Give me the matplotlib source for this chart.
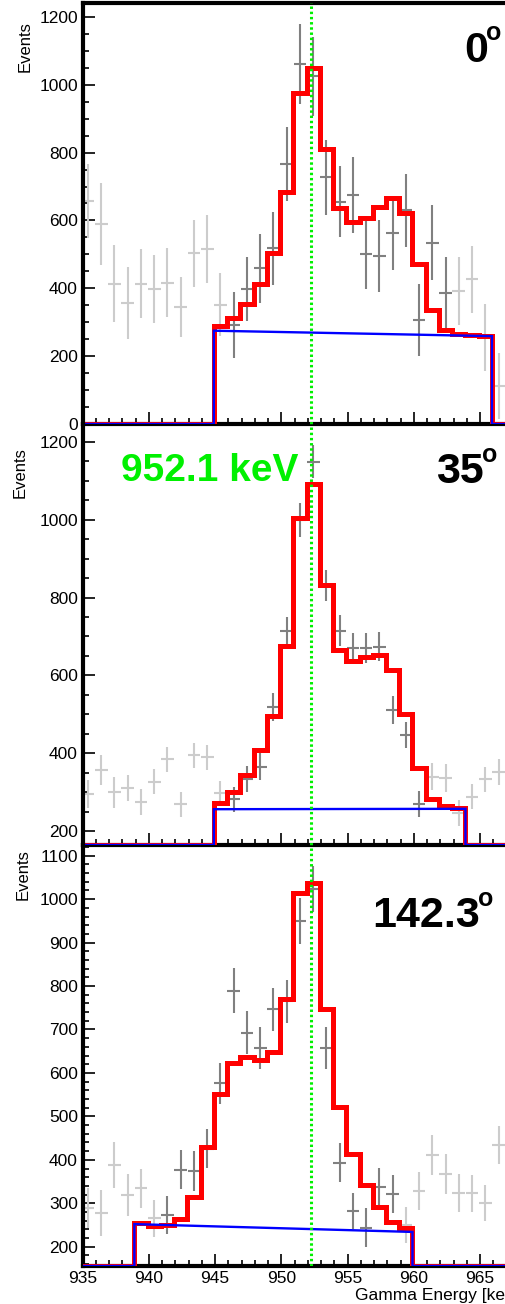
import numpy as np
import matplotlib
matplotlib.use("Agg")
import matplotlib.pyplot as plt
from matplotlib.ticker import MultipleLocator

plt.rcParams['font.family'] = ['Liberation Sans', 'DejaVu Sans']

# ---------------- data ----------------
bin_edges = [934.9, 935.9, 936.9, 937.9, 938.9, 939.9, 940.9, 941.9, 942.9, 943.9,
             944.9, 945.9, 946.9, 947.9, 948.9, 949.9, 950.9, 951.9, 952.9, 953.9,
             954.9, 955.9, 956.9, 957.9, 958.9, 959.9, 960.9, 961.9, 962.9, 963.9,
             964.9, 965.9, 966.9]
bin_centers = [935.4, 936.4, 937.4, 938.4, 939.4, 940.4, 941.4, 942.4, 943.4, 944.4,
               945.4, 946.4, 947.4, 948.4, 949.4, 950.4, 951.4, 952.4, 953.4, 954.4,
               955.4, 956.4, 957.4, 958.4, 959.4, 960.4, 961.4, 962.4, 963.4, 964.4,
               965.4, 966.4]

# panel 0 deg
counts_0 = [658, 589, 414, 358, 414, 398, 417, 344, 503, 516, 352, 292, 398, 459, 518, 766,
            1062, 1025, 727, 655, 675, 501, 495, 562, 630, 306, 535, 387, 392, 426, 255, 112]
errors_0 = [109, 120, 113, 106, 101, 99, 101, 89, 98, 100, 94, 97, 93, 102, 107, 110,
            118, 117, 110, 105, 112, 102, 105, 108, 107, 107, 111, 106, 101, 98, 100, 96]
fit_0 = [288, 311, 354, 414, 503, 684, 976, 1048, 812, 638, 596, 606, 640, 665, 621,
         473, 336, 277, 264, 261, 259]
fit_first_0 = 10
bg_0 = [275, 259]
inside_0 = (11, 27)

# panel 35 deg
counts_35 = [295, 357, 299, 311, 275, 327, 384, 269, 395, 389, 297, 281, 333, 365, 518, 715,
             999, 1149, 832, 715, 670, 670, 674, 511, 447, 269, 340, 335, 247, 288, 333, 352]
errors_35 = [37, 39, 39, 34, 33, 32, 32, 32, 32, 32, 32, 33, 33, 35, 36, 36,
             43, 43, 40, 39, 39, 39, 38, 36, 34, 34, 34, 36, 33, 32, 32, 33]
fit_35 = [271, 301, 344, 408, 496, 676, 1005, 1092, 831, 665, 638, 646, 652, 614, 501,
          361, 282, 263, 258]
fit_first_35 = 10
bg_35 = [256, 257]
inside_35 = (11, 25)

# panel 142.3 deg
counts_142 = [288, 278, 388, 319, 334, 265, 273, 377, 375, 426, 576, 789, 693, 657, 746, 765,
              950, 1023, 657, 393, 282, 244, 337, 321, 250, 329, 411, 367, 323, 323, 301, 434]
errors_142 = [46, 53, 54, 48, 44, 43, 43, 45, 46, 45, 47, 52, 50, 49, 50, 49,
              53, 53, 48, 45, 42, 45, 44, 43, 42, 44, 47, 46, 44, 43, 42, 44]
fit_142 = [254, 248, 250, 263, 314, 429, 551, 622, 637, 630, 649, 769, 1014, 1037, 747,
           522, 413, 342, 292, 258, 242]
fit_first_142 = 4
bg_142 = [252, 234]
inside_142 = (6, 23)

angle_labels = ["0", "35", "142.3"]
line_energy = 952.25
line_label = "952.1 keV"
x_ticks = [935, 940, 945, 950, 955, 960, 965]
x_label = "Gamma Energy [keV]"
y_label = "Events"

# ---------------- style / layout ----------------
W, H = 506, 1304
RED, BLUE, GREEN = '#ff0000', '#0000ff', '#00f000'
DARK, LIGHT = '#808080', '#cccccc'
XLIM = (935.0, 966.96)
left_px = 82.7


def fx(x):
    return x / W


def fy(y):
    return 1 - y / H


panels = [
    dict(counts=counts_0, errors=errors_0, fit=fit_0, first=fit_first_0, bg=bg_0,
         inside=inside_0, angle=angle_labels[0], top=3, bot=424, ylim=(0, 1241),
         major=200, minor=50, ev=(25, 47), num=(488.4, 62.5), sup=(486.3, 40)),
    dict(counts=counts_35, errors=errors_35, fit=fit_35, first=fit_first_35, bg=bg_35,
         inside=inside_35, angle=angle_labels[1], top=424, bot=845, ylim=(164, 1246),
         major=200, minor=50, ev=(20, 472.5), num=(483.4, 483), sup=(482.3, 461.5)),
    dict(counts=counts_142, errors=errors_142, fit=fit_142, first=fit_first_142, bg=bg_142,
         inside=inside_142, angle=angle_labels[2], top=845, bot=1266, ylim=(155.6, 1124.6),
         major=100, minor=20, ev=(23, 875), num=(480.0, 927), sup=(478.3, 906)),
]

fig = plt.figure(figsize=(W / 100, H / 100), dpi=100)
edges = np.array(bin_edges)
xc = np.array(bin_centers)

for i, p in enumerate(panels):
    ax = fig.add_axes([fx(left_px), fy(p['bot']), 1 - fx(left_px), (p['bot'] - p['top']) / H])
    ax.set_xlim(*XLIM)
    ax.set_ylim(*p['ylim'])
    base = p['ylim'][0]

    c = np.array(p['counts'], float)
    e = np.array(p['errors'], float)
    m = np.zeros(len(xc), bool)
    m[p['inside'][0]:p['inside'][1] + 1] = True
    ax.errorbar(xc[~m], c[~m], yerr=e[~m], xerr=0.48, fmt='none', ecolor=LIGHT,
                elinewidth=1.5, capsize=0, zorder=2)
    ax.errorbar(xc[m], c[m], yerr=e[m], xerr=0.48, fmt='none', ecolor=DARK,
                elinewidth=1.5, capsize=0, zorder=2.1)

    n = len(p['fit'])
    fe = edges[p['first']:p['first'] + n + 1]
    xs = np.r_[XLIM[0] - 2, fe, XLIM[1] + 2]
    vals = np.r_[base, p['fit'], base]
    st = ax.stairs(vals, xs, baseline=None, color=RED, linewidth=3.6, zorder=3)
    st.set_joinstyle('miter')

    lo, hi = fe[0], fe[-1]
    ax.plot([XLIM[0] - 2, lo, lo, hi, hi, XLIM[1] + 2],
            [base, base, p['bg'][0], p['bg'][1], base, base],
            color=BLUE, lw=1.7, zorder=4, solid_joinstyle='miter')

    ax.axvline(line_energy, color=GREEN, lw=2.2, linestyle=(0, (0.8, 0.9)), zorder=5)

    for s in ['left', 'bottom', 'top', 'right']:
        ax.spines[s].set_linewidth(3.0)
    ax.spines['right'].set_visible(False)
    if i > 0:
        ax.spines['top'].set_visible(False)

    ax.xaxis.set_major_locator(plt.FixedLocator(x_ticks))
    ax.xaxis.set_minor_locator(MultipleLocator(1))
    ax.yaxis.set_major_locator(MultipleLocator(p['major']))
    ax.yaxis.set_minor_locator(MultipleLocator(p['minor']))
    ax.tick_params(which='both', direction='in', top=False, right=False,
                   width=1.2, colors='black', labelsize=12.5)
    ax.tick_params(which='major', length=8.5)
    ax.tick_params(which='minor', length=4.5)
    ax.tick_params(axis='y', pad=3.5)
    ax.tick_params(axis='x', pad=3.5, labelbottom=(i == 2))
    ax.patch.set_alpha(0)

    fig.text(fx(p['ev'][0]), fy(p['ev'][1]), y_label, rotation=90, ha='center',
             va='center', fontsize=12)
    fig.text(fx(p['num'][0]), fy(p['num'][1]), p['angle'], ha='right', va='baseline',
             fontsize=31, fontweight='bold')
    fig.text(fx(p['sup'][0]), fy(p['sup'][1]), 'o', ha='left', va='baseline',
             fontsize=18, fontweight='bold')

# axis title runs off the right edge, as in the reference
fig.text(fx(355), fy(1300), x_label, ha='left', va='baseline', fontsize=12.5)
fig.text(fx(121), fy(481), line_label, ha='left', va='baseline', fontsize=28,
         fontweight='bold', color=GREEN)

fig.savefig('out.png', dpi=100)
